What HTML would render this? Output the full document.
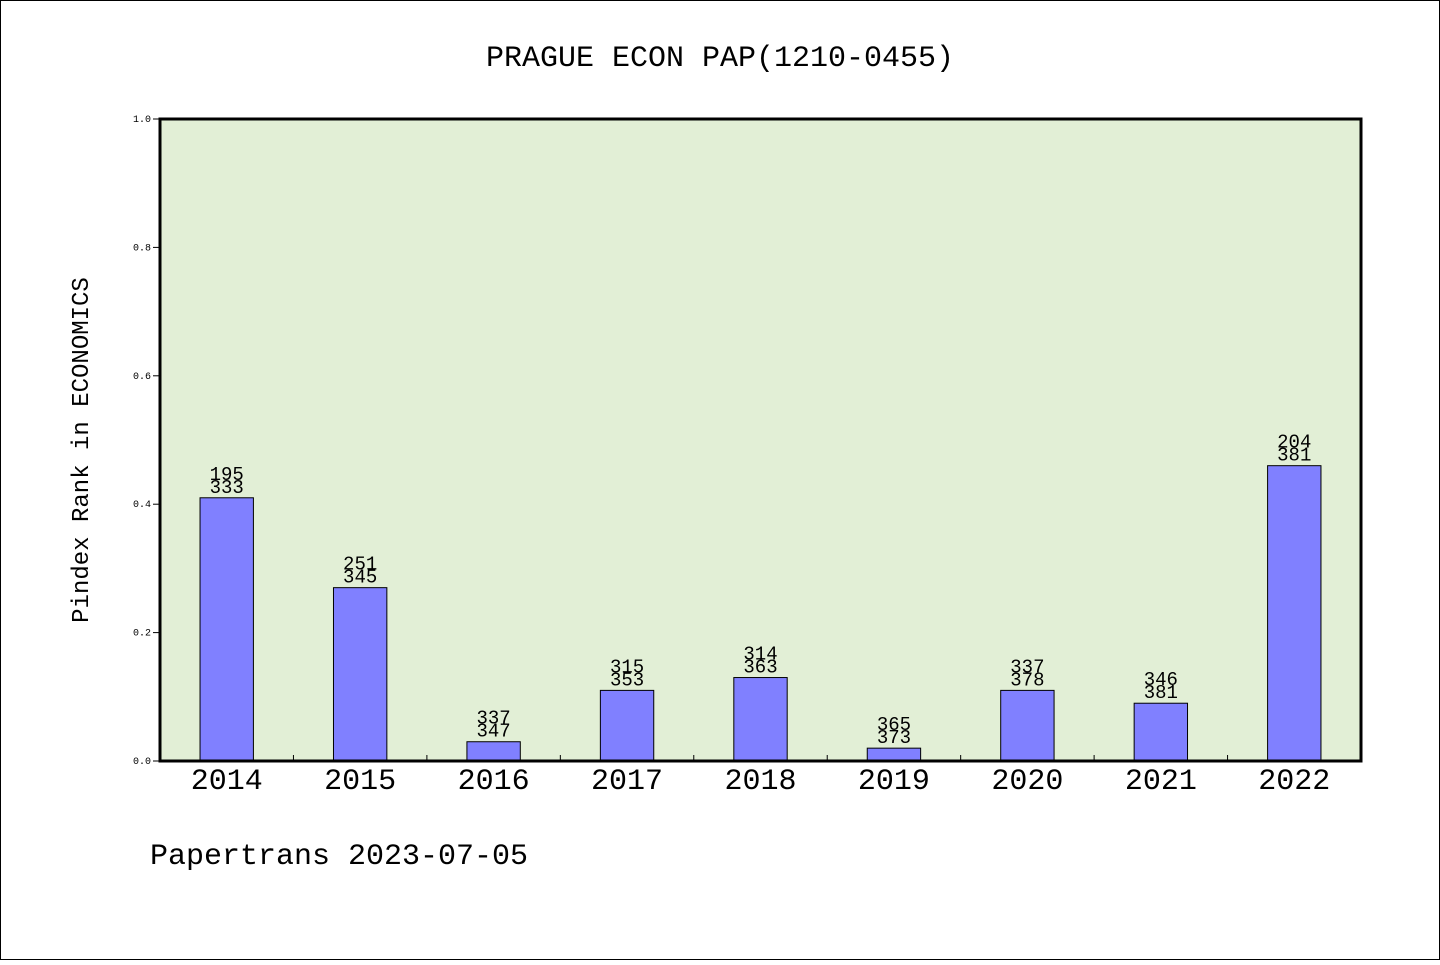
<!DOCTYPE html>
<html><head><meta charset="utf-8"><style>
html,body{margin:0;padding:0;background:#fff}
svg text{font-family:"Liberation Mono",monospace;fill:#000}
</style></head><body>
<svg id="chart" width="1440" height="960" xmlns="http://www.w3.org/2000/svg">
<rect x="0.5" y="0.5" width="1439" height="959" fill="#fff" stroke="#000"/>
<text x="720" y="66" font-size="30" text-anchor="middle">PRAGUE ECON PAP(1210-0455)</text>
<rect x="160" y="119" width="1201" height="642" fill="#e2efd6"/>
<g id="marks"></g>
<rect x="160" y="119" width="1201" height="642" fill="none" stroke="#000" stroke-width="3"/>
<text transform="translate(88,450) rotate(-90)" font-size="24" text-anchor="middle">Pindex Rank in ECONOMICS</text>
<text x="150" y="864" font-size="30">Papertrans 2023-07-05</text>
</svg>
<script>
const categories=["2014","2015","2016","2017","2018","2019","2020","2021","2022"];
const values=[0.41,0.27,0.03,0.11,0.13,0.02,0.11,0.09,0.46];
const topLabels=["195","251","337","315","314","365","337","346","204"];
const bottomLabels=["333","345","347","353","363","373","378","381","381"];
const yTicks=[0,0.2,0.4,0.6,0.8,1.0];
const X0=160,W=1201,Y0=761,H=642,NS="http://www.w3.org/2000/svg";
const band=W/categories.length;
const xs=i=>X0+band*(i+0.5);
const ys=v=>Y0-v*H;
const g=document.getElementById('marks');
function mk(t,a){const e=document.createElementNS(NS,t);for(const k in a)e.setAttribute(k,a[k]);g.appendChild(e);return e;}
yTicks.forEach(v=>{
 const l=mk('line',{x1:X0-7,x2:X0,y1:ys(v),y2:ys(v),stroke:'#000'});
 
 
 const t=mk('text',{x:X0-9,y:ys(v)+3,'font-size':10,'text-anchor':'end'});t.textContent=v.toFixed(1);
 
 
});
categories.forEach((c,i)=>{
 if(i>0){const tk=mk('line',{x1:X0+band*i,x2:X0+band*i,y1:Y0,y2:Y0-6,stroke:'#000'});
 
 }
 const bw=band*0.4;
 const b=mk('rect',{x:xs(i)-bw/2,y:ys(values[i]),width:bw,height:Y0-ys(values[i]),fill:'#8080ff',stroke:'#000','stroke-width':1});
 
 
 const t1=mk('text',{x:xs(i),y:ys(values[i])-18,'font-size':19,'text-anchor':'middle'});t1.textContent=topLabels[i];
 
 
 const t2=mk('text',{x:xs(i),y:ys(values[i])-5,'font-size':19,'text-anchor':'middle'});t2.textContent=bottomLabels[i];
 
 
 const xl=mk('text',{x:xs(i),y:Y0+28,'font-size':30,'text-anchor':'middle'});xl.textContent=c;
 
 
});
</script>
</body></html>
